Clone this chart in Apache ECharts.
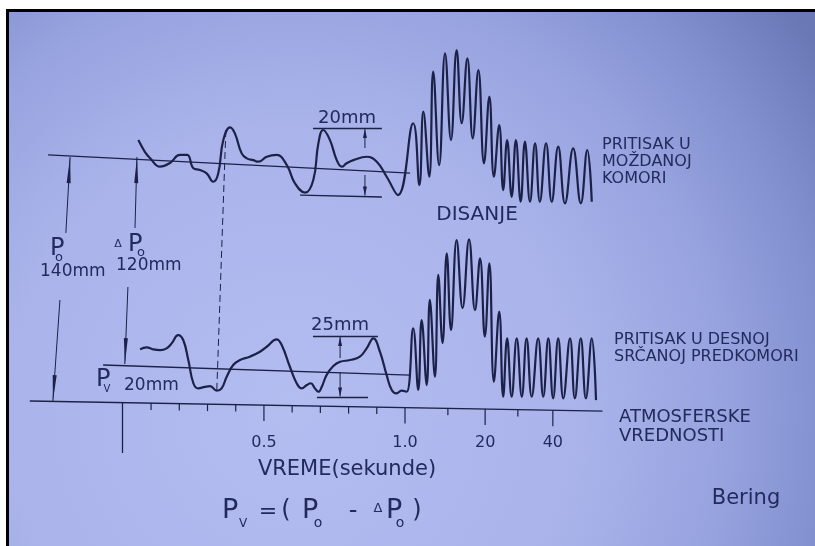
<!DOCTYPE html>
<html>
<head>
<meta charset="utf-8">
<script src="https://cdn.jsdelivr.net/npm/echarts@6/dist/echarts.min.js"></script>
<style>
  html, body { margin: 0; padding: 0; background: #fff; }
  #chart { width: 815px; height: 546px; }
</style>
</head>
<body>
<div id="chart"></div>
<script>
// x: tenths of a second on the linear part of the time scale, y: pressure in mm
const TICK_VALUES = [5, 10, 12.84, 15.24];
const TICK_LABELS = ['0.5', '1.0', '20', '40'];
const MINOR_TICKS = [1, 2, 3, 4, 6, 7, 8, 9, 11.52, 14.0];

// intracranial pressure trace (slow part, then breathing waves)
const TOP_SLOW = [
  [0.55, 148.3], [0.78, 141.7], [0.96, 138.2], [1.32, 133.3], [1.67, 135.4],
  [2.02, 139.9], [2.28, 139.9], [2.50, 132.4], [2.73, 131.4], [2.97, 129.5],
  [3.20, 124.8], [3.38, 129.5], [3.56, 148.3], [3.80, 155.5], [3.97, 152.1],
  [4.21, 140.8], [4.39, 138.0], [4.62, 137.0], [4.80, 136.1], [5.10, 138.9],
  [5.45, 139.9], [5.81, 134.2], [6.10, 123.9], [6.46, 118.6], [6.75, 125.8],
  [6.93, 146.5], [7.10, 154.0], [7.34, 148.3], [7.58, 137.0], [7.76, 133.3],
  [7.93, 135.2], [8.17, 137.0], [8.64, 138.9], [9.00, 136.1], [9.35, 127.6],
  [9.75, 117.3]
];
const TOP_WAVES = [
  [10.29, 157.8], [10.51, 122.9], [10.65, 164.3], [10.86, 127.6], [11.00, 186.9],
  [11.21, 134.2], [11.42, 197.2], [11.63, 148.3], [11.83, 199.1], [12.01, 157.8],
  [12.21, 194.4], [12.40, 149.3], [12.60, 187.8], [12.80, 135.2], [12.99, 172.8],
  [13.15, 127.6], [13.34, 156.8], [13.48, 120.1], [13.62, 148.3], [13.78, 116.3],
  [13.93, 148.3], [14.10, 113.5], [14.25, 147.4], [14.43, 113.5], [14.61, 146.5],
  [14.78, 113.5], [15.00, 146.5], [15.20, 113.5], [15.43, 144.6], [15.67, 112.6],
  [15.96, 143.6], [16.23, 112.6], [16.46, 142.7], [16.62, 113.5]
];

// right atrium pressure trace
const BOTTOM_SLOW = [
  [0.61, 30.2], [0.84, 31.4], [1.08, 30.2], [1.32, 29.8], [1.55, 30.8],
  [1.73, 33.6], [1.96, 38.3], [2.14, 35.5], [2.32, 24.2], [2.50, 11.1],
  [2.67, 8.2], [2.91, 9.1], [3.09, 9.5], [3.33, 6.9], [3.50, 8.2],
  [3.68, 14.8], [3.91, 21.4], [4.15, 24.2], [4.50, 26.1], [4.86, 28.9],
  [5.10, 31.7], [5.45, 35.9], [5.63, 32.7], [5.92, 20.4], [6.16, 11.1],
  [6.34, 8.2], [6.52, 10.1], [6.66, 11.1], [6.81, 8.2], [6.93, 6.3],
  [7.05, 9.1], [7.22, 15.7], [7.46, 20.8], [7.70, 23.2], [8.05, 24.2],
  [8.40, 26.1], [8.64, 30.8], [8.88, 36.4], [9.11, 28.9], [9.35, 15.7],
  [9.53, 7.3], [9.70, 5.4], [9.88, 6.9], [10.06, 6.3]
];
const BOTTOM_WAVES = [
  [10.29, 42.1], [10.47, 7.3], [10.59, 46.8], [10.77, 10.1], [10.88, 58.1],
  [11.06, 14.8], [11.18, 72.2], [11.33, 33.8], [11.48, 84.4], [11.63, 41.1],
  [11.83, 91.9], [12.04, 53.5], [12.27, 92.3], [12.48, 52.4], [12.66, 81.6],
  [12.83, 37.4], [12.99, 78.8], [13.15, 12.0], [13.34, 51.5], [13.48, 3.5],
  [13.62, 36.4], [13.78, 3.5], [13.96, 36.4], [14.14, 3.5], [14.31, 36.4],
  [14.49, 3.5], [14.72, 36.4], [14.90, 3.5], [15.08, 36.4], [15.25, 2.6],
  [15.43, 36.4], [15.61, 2.6], [15.85, 36.4], [16.02, 2.6], [16.23, 36.4],
  [16.41, 2.6], [16.62, 36.4], [16.77, 1.6]
];

// reference lines [from, to]
const BASELINE = [[-3.30, 1.1], [17.0, -4.6]];
const P0_LINE = [[-2.65, 139.9], [10.18, 129.7]];
const PV_LINE = [[-0.70, 21.4], [10.18, 15.7]];
const BAR20_TOP = [[6.74, 155.1], [9.18, 155.1]];
const BAR20_BOTTOM = [[6.28, 117.3], [9.18, 116.2]];
const BAR25_TOP = [[6.74, 37.7], [9.04, 37.7]];
const BAR25_BOTTOM = [[6.88, 3.3], [8.69, 3.3]];
const ZERO_MARK = [[-0.03, 0], [-0.03, -28.3]];
const DASHED_LINE = [[3.65, 154.0], [3.33, 7.3]];

// arrows [fromX, fromY, toX, toY], head at "to"
const LONG_ARROWS = [
  [-2.02, 95.9, -1.87, 138.7],
  [-2.23, 58.1, -2.48, 1.1],
  [0.43, 98.7, 0.50, 138.7],
  [0.18, 65.4, 0.07, 21.9]
];
const SHORT_ARROWS = [
  [8.58, 143.8, 8.58, 154.5],
  [8.58, 128.6, 8.58, 117.0],
  [7.70, 25.3, 7.70, 37.2],
  [7.70, 17.4, 7.70, 3.6]
];

const INK = '#1c2148';
const TEXT = '#232a5c';
const FONT = '"DejaVu Sans", "Liberation Sans", sans-serif';

const chart = echarts.init(document.getElementById('chart'));

function baselineAt(u) {
  const a = BASELINE[0], b = BASELINE[1];
  return a[1] + (b[1] - a[1]) * (u - a[0]) / (b[0] - a[0]);
}

function arrowRenderer(headLen, halfW) {
  return function (params, api) {
    const p1 = api.coord([api.value(0), api.value(1)]);
    const p2 = api.coord([api.value(2), api.value(3)]);
    const dx = p2[0] - p1[0];
    const dy = p2[1] - p1[1];
    const len = Math.sqrt(dx * dx + dy * dy) || 1;
    const ux = dx / len, uy = dy / len;
    const hx = p2[0] - ux * headLen, hy = p2[1] - uy * headLen;
    const nx = -uy, ny = ux;
    return {
      type: 'group',
      children: [
        { type: 'line', shape: { x1: p1[0], y1: p1[1], x2: p2[0], y2: p2[1] }, style: { stroke: INK, lineWidth: 1 } },
        { type: 'polygon', shape: { points: [[p2[0], p2[1]], [hx + nx * halfW, hy + ny * halfW], [hx - nx * halfW, hy - ny * halfW]] }, style: { fill: INK } }
      ]
    };
  };
}

function txt(x, y, text, size) {
  return {
    type: 'text',
    x: x, y: y,
    style: {
      text: text, fill: TEXT,
      font: size + 'px ' + FONT,
      align: 'left', verticalAlign: 'middle'
    }
  };
}
function ctxt(x, y, text, size) {
  const t = txt(x, y, text, size);
  t.style.align = 'center';
  return t;
}
function block(x, y, text, size, lineHeight) {
  const t = txt(x, y, text, size);
  t.style.verticalAlign = 'top';
  t.style.lineHeight = lineHeight;
  return t;
}

const texts = [
  // right-hand labels
  block(602, 136, 'PRITISAK U\nMOŽDANOJ\nKOMORI', 16, 17),
  block(614, 331, 'PRITISAK U DESNOJ\nSRČANOJ PREDKOMORI', 16, 17),
  block(619, 408, 'ATMOSFERSKE\nVREDNOSTI', 18, 19),
  ctxt(477, 215, 'DISANJE', 20),
  ctxt(347, 470, 'VREME(sekunde)', 21),
  ctxt(746, 499, 'Bering', 21),
  ctxt(347, 118, '20mm', 18),
  ctxt(340, 325, '25mm', 18),
  // left-hand pressure labels
  txt(50, 249, 'P', 24), ctxt(59, 258, 'o', 13),
  txt(40, 272, '140mm', 17),
  ctxt(118, 244, 'Δ', 11), txt(128, 245, 'P', 24), ctxt(141, 253, 'o', 13),
  txt(116, 266, '120mm', 17),
  txt(96, 380, 'P', 24), ctxt(107, 389, 'V', 10),
  txt(124, 386, '20mm', 17),
  // formula
  txt(222, 511, 'P', 27), ctxt(243, 524, 'V', 12),
  ctxt(268, 512, '=', 22),
  ctxt(286, 511, '(', 24),
  txt(302, 511, 'P', 27), ctxt(318, 523, 'o', 14),
  ctxt(353, 512, '-', 24),
  ctxt(378, 509, 'Δ', 13),
  txt(386, 511, 'P', 27), ctxt(400, 523, 'o', 14),
  ctxt(417, 511, ')', 24)
];

const background = [
  { type: 'rect', z: -3, shape: { x: 0, y: 0, width: 815, height: 546 }, style: { fill: '#ffffff' } },
  { type: 'rect', z: -3, shape: { x: 6, y: 9, width: 809, height: 537 }, style: { fill: '#000000' } },
  {
    type: 'rect', z: -3, shape: { x: 9, y: 12, width: 806, height: 534 },
    style: {
      fill: new echarts.graphic.RadialGradient(0.35, 0.75, 1.2, [
        { offset: 0, color: '#b3bdf0' },
        { offset: 0.45, color: '#aab4eb' },
        { offset: 0.68, color: '#97a3df' },
        { offset: 0.84, color: '#8290d0' },
        { offset: 1, color: '#6a78b6' }
      ])
    }
  }
];

const option = {
  animation: false,
  grid: { left: 10, right: 15, top: 13, bottom: 19, containLabel: false, outerBoundsMode: 'none' },
  xAxis: {
    type: 'value', min: -4, max: 24,
    position: 'bottom', offset: -124,
    splitLine: { show: false },
    axisTick: { show: false },
    axisLine: { show: false, onZero: false },
    axisLabel: {
      customValues: TICK_VALUES,
      formatter: function (v) {
        const i = TICK_VALUES.findIndex(function (t) { return Math.abs(t - v) < 1e-6; });
        return i >= 0 ? TICK_LABELS[i] : '';
      },
      margin: 32, color: TEXT, fontSize: 16, fontFamily: FONT
    }
  },
  yAxis: { type: 'value', min: -70, max: 220, show: false },
  graphic: background.concat(texts),
  series: [
    {
      type: 'lines', coordinateSystem: 'cartesian2d',
      lineStyle: { color: INK, width: 1.3, opacity: 1 },
      data: [BASELINE, P0_LINE, PV_LINE, BAR20_TOP, BAR20_BOTTOM, BAR25_TOP, BAR25_BOTTOM, ZERO_MARK]
        .map(function (c) { return { coords: c }; })
    },
    {
      type: 'lines', coordinateSystem: 'cartesian2d',
      lineStyle: { color: INK, width: 1, type: [7, 4], opacity: 1 },
      data: [{ coords: DASHED_LINE }]
    },
    {
      type: 'custom', coordinateSystem: 'cartesian2d',
      data: MINOR_TICKS.concat(TICK_VALUES).map(function (u) { return [u]; }),
      renderItem: function (params, api) {
        const u = api.value(0);
        const p = api.coord([u, baselineAt(u)]);
        const long = TICK_VALUES.indexOf(u) >= 0;
        return { type: 'line', shape: { x1: p[0], y1: p[1], x2: p[0], y2: p[1] + (long ? 16 : 7) }, style: { stroke: INK, lineWidth: 1.2 } };
      }
    },
    { type: 'custom', coordinateSystem: 'cartesian2d', data: LONG_ARROWS, renderItem: arrowRenderer(26, 2) },
    { type: 'custom', coordinateSystem: 'cartesian2d', data: SHORT_ARROWS, renderItem: arrowRenderer(9, 2) },
    {
      type: 'line', data: TOP_SLOW.concat(TOP_WAVES), smooth: 0.45, symbol: 'none',
      lineStyle: { color: INK, width: 2.2 }
    },
    {
      type: 'line', data: BOTTOM_SLOW.concat(BOTTOM_WAVES), smooth: 0.45, symbol: 'none',
      lineStyle: { color: INK, width: 2.2 }
    }
  ]
};

chart.setOption(option);
</script>
</body>
</html>
